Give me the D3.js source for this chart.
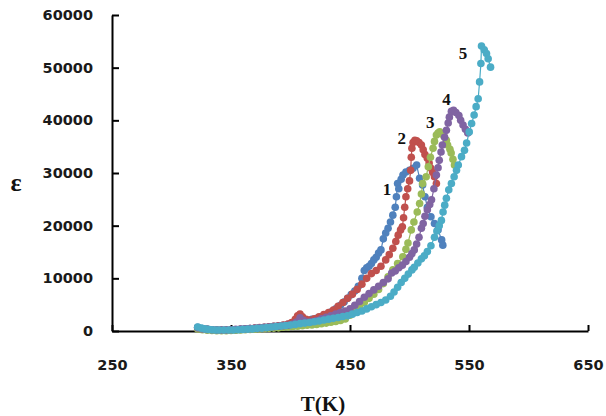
<!DOCTYPE html>
<html>
<head>
<meta charset="utf-8">
<script src="https://cdn.jsdelivr.net/npm/d3@7"></script>
<style>
  html, body { margin: 0; padding: 0; background: #fff; }
  svg { display: block; }
  .tick text { font-family: "DejaVu Sans", Verdana, sans-serif; font-weight: bold; font-size: 14.5px; fill: #1a1a1a; }
</style>
</head>
<body>
<svg id="chart" width="606" height="416"></svg>
<script>
// Permittivity ε versus temperature T (K), five samples; each point is [T, ε].
const curve1 = [[322,700],[326,450],[330,300],[334,250],[338,200],[342,200],[346,200],[350,200],[354,250],[358,300],[362,350],[366,450],[370,500],[374,600],[378,700],[382,800],[386,900],[390,1000],[394,1100],[398,1250],[402,1400],[406,1600],[410,1800],[414,2000],[418,2200],[422,2400],[426,2700],[430,3100],[434,3600],[438,4200],[442,4900],[445,5500],[448,6200],[451,6900],[454,7600],[457,8500],[460,10000],[462,11500],[464,12000],[466,12300],[468,12800],[470,13500],[472,14000],[474,14800],[476,15400],[478,17500],[480,18600],[482,19500],[484,20700],[486,22000],[488,23500],[489,25500],[490,28000],[491,27000],[493,28800],[494.5,29600],[497,30200],[500,30500],[503,30900],[506,31500],[508.5,29000],[511,27700],[513,25500],[515,23500],[518,21700],[521,20400],[524,19200],[527,17300],[528,16300]];

const curve2 = [[322,600],[326,400],[330,300],[334,250],[338,200],[342,200],[346,200],[350,200],[354,250],[358,300],[362,400],[366,450],[370,550],[374,650],[378,700],[382,800],[386,900],[390,1000],[394,1150],[398,1300],[401,1600],[404,2200],[406,2900],[408,3200],[410,2700],[413,2200],[416,2100],[420,2300],[424,2700],[428,3100],[432,3500],[436,4000],[440,4700],[444,5400],[448,6200],[452,7000],[456,7900],[460,8900],[464,10000],[468,10900],[472,11500],[476,12300],[480,13500],[483,14500],[486,15700],[488.5,17000],[490.5,18200],[492.5,19200],[494,19800],[495,21500],[496,23500],[497,25500],[498.5,27000],[500,28500],[501,30500],[501.5,33000],[502,34700],[503,35800],[504.5,36200],[506,36100],[508,35800],[510,35300],[511.5,34400],[513,33500],[515,32800],[516.5,31900],[518,30900],[519.5,30100],[521,29300],[522.6,28000]];

const curve3 = [[322,400],[326,250],[330,150],[334,100],[338,50],[342,50],[346,50],[350,100],[354,150],[358,200],[362,250],[366,300],[370,350],[374,400],[378,450],[382,500],[386,550],[390,600],[394,700],[398,750],[402,850],[406,900],[410,1000],[414,1100],[418,1150],[422,1250],[426,1400],[430,1500],[434,1650],[438,1800],[442,2000],[446,2300],[450,3000],[454,3800],[458,4600],[462,5400],[466,6200],[470,7000],[474,7900],[478,9000],[482,10300],[486,11600],[490,12800],[494.4,14100],[497,15500],[498.7,16700],[501.5,19200],[503.7,20700],[506.5,22600],[508.5,24200],[510,26000],[511,28000],[514,29300],[515.8,31200],[517.6,33000],[519.8,34700],[521,36000],[522.6,37200],[524,37600],[525.4,37800],[527,37500],[529,37000],[531,36200],[532,35300],[534,34500],[535,33800],[536.5,32600],[537.8,31500]];

const curve4 = [[322,600],[326,400],[330,300],[334,250],[338,200],[342,200],[346,200],[350,250],[354,300],[358,350],[362,400],[366,450],[370,500],[374,600],[378,650],[382,750],[386,800],[390,900],[394,1000],[398,1100],[402,1300],[405,1700],[408,2500],[411,2000],[414,1700],[418,1800],[422,2000],[426,2300],[430,2600],[434,2900],[438,3200],[442,3500],[446,3800],[450,4200],[454,4900],[458,5600],[462,6400],[466,7100],[470,7800],[474,8500],[478,9200],[482,9900],[485,11000],[488,11400],[491,12000],[494,12500],[497,13200],[500,14000],[502,14700],[504,15400],[506,16500],[508,17800],[510,19500],[511.5,20400],[513,21800],[515,23000],[517,24000],[518.5,24900],[520.5,27000],[522.6,29600],[524,31000],[525,32400],[526.5,34000],[527.6,35300],[529.5,36800],[531,38100],[532.5,39500],[533.5,40600],[535.2,41700],[537,41900],[539,41500],[541.5,40900],[543,40000],[545,39100],[547,38300],[549,37600]];

const curve5 = [[322,750],[325,550],[328,400],[331,300],[334,250],[337,200],[340,200],[344,200],[348,200],[352,200],[356,250],[360,300],[364,350],[368,400],[372,500],[376,550],[380,650],[384,750],[388,850],[392,950],[396,1050],[400,1150],[404,1250],[408,1400],[412,1500],[416,1600],[420,1750],[424,1900],[428,2100],[432,2250],[436,2400],[440,2550],[444,2750],[448,2900],[452,3200],[456,3500],[460,3800],[464,4200],[468,4600],[472,5000],[476,5400],[480,5900],[484,6600],[487,7400],[490,8300],[493,9200],[496,10000],[499,10800],[502,11600],[504,12100],[507,12900],[510,13700],[512.5,14300],[515,15100],[518,16200],[521,17800],[523,19000],[525,20000],[526.8,21000],[528.2,22600],[529.6,23900],[531,25200],[533,26800],[535.2,28000],[537.5,29300],[539.5,30500],[541,31500],[543.7,33100],[546.2,34300],[548,35700],[550.2,37800],[552.2,39400],[554.3,41000],[556,42600],[557.7,44100],[558.9,47300],[560,50800],[560.5,54100],[562.8,53400],[564.7,52700],[566.1,51700],[568.1,50100]];

const seriesNames = ["1", "2", "3", "4", "5"];
const seriesColors = ["#4f81bd", "#c0504d", "#9bbb59", "#8064a2", "#4bacc6"];
// Where each curve's number label sits, as [T, ε]
const labelAnchors = [[481, 27000], [493.5, 36600], [517.5, 39600], [531, 44000], [545, 52800]];

const xTicks = [250, 350, 450, 550, 650];
const yTicks = [0, 10000, 20000, 30000, 40000, 50000, 60000];

const curves = [curve1, curve2, curve3, curve4, curve5];

const svg = d3.select("#chart");
const x = d3.scaleLinear().domain([250, 650]).range([112, 588]);
const y = d3.scaleLinear().domain([0, 60000]).range([331, 15]);

// Axes with inward ticks
const xAxis = d3.axisBottom(x).tickValues(xTicks).tickFormat(d3.format("d"))
  .tickSizeInner(-6).tickSizeOuter(0).tickPadding(29);
const yAxis = d3.axisLeft(y).tickValues(yTicks).tickFormat(d3.format("d"))
  .tickSizeInner(-7).tickSizeOuter(0).tickPadding(19);

const gx = svg.append("g").attr("transform", "translate(0,331)").call(xAxis);
const gy = svg.append("g").attr("transform", "translate(112,0)").call(yAxis);
[gx, gy].forEach(g => {
  g.selectAll("path.domain").attr("stroke", "#000").attr("stroke-width", 2);
  g.selectAll(".tick line").attr("stroke", "#000").attr("stroke-width", 2);
});
gx.selectAll(".tick text").attr("dy", "0.71em");

// Data: thin connecting lines with round markers, series drawn in order
const line = d3.line().x(d => x(d[0])).y(d => y(d[1]));
curves.forEach((data, i) => {
  const g = svg.append("g");
  g.append("path").datum(data).attr("d", line)
    .attr("fill", "none").attr("stroke", seriesColors[i]).attr("stroke-width", 1.2);
  g.selectAll("circle").data(data).join("circle")
    .attr("cx", d => x(d[0])).attr("cy", d => y(d[1])).attr("r", 3.8)
    .attr("fill", seriesColors[i]);
});

// Curve numbers
svg.append("g").selectAll("text").data(labelAnchors).join("text")
  .attr("x", d => x(d[0])).attr("y", d => y(d[1]))
  .attr("text-anchor", "middle").attr("dy", "0.35em")
  .attr("font-family", "'Liberation Serif', 'Times New Roman', serif")
  .attr("font-weight", "bold").attr("font-size", 17).attr("fill", "#111")
  .text((d, i) => seriesNames[i]);

// Axis titles
svg.append("text").attr("x", 323).attr("y", 411).attr("text-anchor", "middle")
  .attr("font-family", "'Liberation Serif', 'Times New Roman', serif")
  .attr("font-weight", "bold").attr("font-size", 21).attr("fill", "#111")
  .text("T(K)");
svg.append("text").attr("x", 16).attr("y", 182).attr("text-anchor", "middle").attr("dy", "0.35em")
  .attr("font-family", "'Liberation Serif', 'Times New Roman', serif")
  .attr("font-weight", "bold").attr("font-size", 26).attr("fill", "#111")
  .text("ε");
</script>
</body>
</html>
